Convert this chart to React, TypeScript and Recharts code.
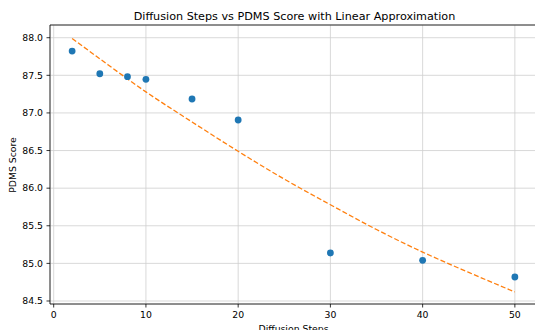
import React from "react";
import {
  ComposedChart,
  Scatter,
  Line,
  XAxis,
  YAxis,
  CartesianGrid,
  ReferenceLine,
} from "recharts";

// Observed PDMS scores per diffusion step count
const steps = [2, 5, 8, 10, 15, 20, 30, 40, 50];
const scores = [87.823, 87.521, 87.482, 87.447, 87.185, 86.906, 85.138, 85.041, 84.819];

// Approximation curve
const fitSteps = [2, 5, 10, 15, 20, 25, 30, 35, 40, 45, 50];
const fitScores = [87.99, 87.72, 87.28, 86.88, 86.49, 86.12, 85.78, 85.45, 85.15, 84.88, 84.62];

const xTicks = [0, 10, 20, 30, 40, 50];
const yTicks = [84.5, 85.0, 85.5, 86.0, 86.5, 87.0, 87.5, 88.0];
const xDomain: [number, number] = [-0.4, 52.4];
const yDomain: [number, number] = [84.46, 88.169];

const title = "Diffusion Steps vs PDMS Score with Linear Approximation";
const xLabel = "Diffusion Steps";
const yLabel = "PDMS Score";

const pointData = steps.map((s, i) => ({ x: s, y: scores[i] }));
const fitData = fitSteps.map((s, i) => ({ x: s, y: fitScores[i] }));

const FONT = "'DejaVu Sans', sans-serif";
const tickStyle = { fontSize: 9.3, fill: "#000", fontFamily: FONT };

const Dot = (props: any) => (
  <circle cx={props.cx} cy={props.cy} r={3.4} fill="#1f77b4" />
);

export default function App() {
  return (
    <div
      style={{
        position: "absolute",
        left: 0,
        top: 0,
        width: 535,
        height: 330,
        overflow: "hidden",
        background: "#fff",
      }}
    >
      <svg
        width={535}
        height={30}
        style={{ position: "absolute", left: 0, top: 0 }}
      >
        <text
          x={294.5}
          y={19.7}
          textAnchor="middle"
          fontFamily={FONT}
          fontSize={11.2}
          fill="#000"
        >
          {title}
        </text>
      </svg>
      <div style={{ position: "absolute", left: 0, top: 0 }}>
        <ComposedChart
          width={540}
          height={330}
          margin={{ top: 25, right: 3, bottom: 0, left: 0 }}
        >
          <CartesianGrid stroke="#cfcfcf" strokeWidth={0.8} />
          <XAxis
            dataKey="x"
            type="number"
            domain={xDomain}
            ticks={xTicks}
            allowDataOverflow
            height={26}
            tickSize={3.5}
            tickMargin={4}
            tick={tickStyle}
            stroke="#000"
            strokeWidth={0.8}
            tickLine={{ stroke: "#000", strokeWidth: 0.8 }}
            axisLine={{ stroke: "#000", strokeWidth: 0.8 }}
            label={{
              value: xLabel,
              position: "insideBottom",
              offset: -2,
              style: { fontSize: 9.3, fill: "#000", fontFamily: FONT },
            }}
          />
          <YAxis
            dataKey="y"
            type="number"
            domain={yDomain}
            ticks={yTicks}
            allowDataOverflow
            width={50}
            tickSize={3.5}
            tickMargin={3.5}
            tick={tickStyle}
            tickFormatter={(v: number) => v.toFixed(1)}
            stroke="#000"
            strokeWidth={0.8}
            tickLine={{ stroke: "#000", strokeWidth: 0.8 }}
            axisLine={{ stroke: "#000", strokeWidth: 0.8 }}
            label={{
              content: () => (
                <text
                  x={16}
                  y={165}
                  transform="rotate(-90 16 165)"
                  textAnchor="middle"
                  fontFamily={FONT}
                  fontSize={9.3}
                  fill="#000"
                >
                  {yLabel}
                </text>
              ),
            }}
          />
          <ReferenceLine y={yDomain[1]} stroke="#000" strokeWidth={0.8} />
          <Line
            data={fitData}
            dataKey="y"
            type="monotone"
            stroke="#ff7f0e"
            strokeWidth={1.3}
            strokeDasharray="5 2.3"
            dot={false}
            activeDot={false}
            isAnimationActive={false}
          />
          <Scatter
            data={pointData}
            dataKey="y"
            shape={Dot}
            isAnimationActive={false}
          />
        </ComposedChart>
      </div>
    </div>
  );
}
